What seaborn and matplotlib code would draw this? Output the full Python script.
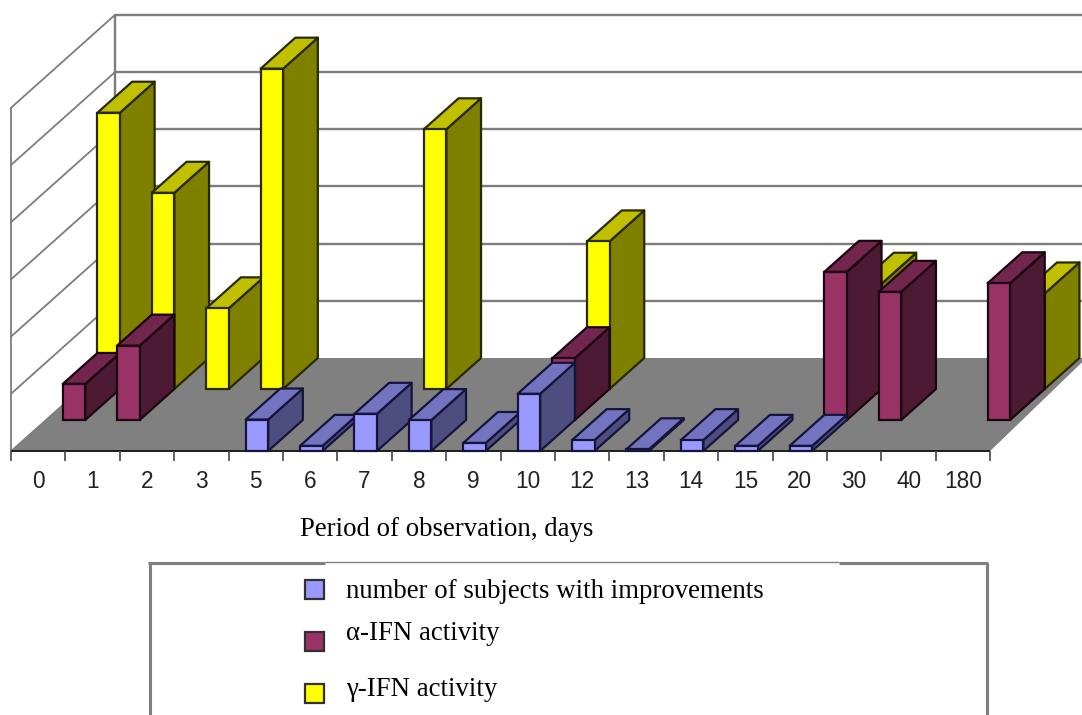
import numpy as np
import pandas as pd
import matplotlib
matplotlib.use("Agg")
import matplotlib.pyplot as plt
from matplotlib.patches import Polygon
import seaborn as sns

# Observation periods and measured activity, in gridline units
days = ["0", "1", "2", "3", "5", "6", "7", "8", "9", "10", "12", "13", "14", "15", "20", "30", "40", "180"]
nan = float("nan")
improved = [nan, nan, nan, nan, 0.55, 0.09, 0.65, 0.54, 0.14, 1.00, 0.19, 0.03, 0.19, 0.09, 0.09, nan, nan, nan]
alpha_ifn = [0.63, 1.30, nan, nan, nan, nan, nan, nan, nan, 1.08, nan, nan, nan, nan, 2.59, 2.24, nan, 2.39]
gamma_ifn = [4.83, 3.43, 1.41, 5.60, nan, nan, 4.54, nan, nan, 2.58, nan, nan, nan, nan, 1.84, nan, nan, 1.67]
grid_levels = [0, 1, 2, 3, 4, 5, 6]

legend_labels = ["number of subjects with improvements", "α-IFN activity", "γ-IFN activity"]

# Pixel geometry of the oblique projection
W, H = 1082, 715
X0, Y0 = 11.0, 451.0
STEP_X, STEP_Y = 54.4, 57.2
DEPTH_X, DEPTH_Y = 34.7 / STEP_X, 31.0 / STEP_Y  # one series row, in data units
BAR_WIDTH = 22.5 / STEP_X
N_ROWS = 3
N_DAYS = len(days)

sns.set_theme(style="white")
fig = plt.figure(figsize=(W / 100, H / 100), dpi=100, facecolor="white")
ax = fig.add_axes([0, 0, 1, 1])

# Series listed front to back: values, depth row, front / side / top colours, outline
series = [
    (improved, 0, "#9999FF", "#4D4D80", "#7373BF", "#14143C"),
    (alpha_ifn, 1, "#993366", "#4D1A33", "#73264D", "#1A0510"),
    (gamma_ifn, 2, "#FFFF00", "#808000", "#C0C000", "#2A2A00"),
]

GRID = "#7d7d7d"
EDGE_W = 1.6

# Floor and walls
dx_back, dy_back = N_ROWS * DEPTH_X, N_ROWS * DEPTH_Y
right = float(N_DAYS)
ax.add_patch(Polygon([(0, 0), (right, 0), (right + 1.77, dy_back), (dx_back - 0.0, dy_back)],
                     closed=True, facecolor="#808080", edgecolor="none", zorder=1))
for level in grid_levels:
    if level > 0:
        ax.plot([dx_back, right + 3], [level + dy_back] * 2, color=GRID, lw=1.7, zorder=1.5,
                solid_capstyle="butt")
        ax.plot([0, dx_back], [level, level + dy_back], color=GRID, lw=1.3, zorder=1.5)
ax.plot([dx_back, dx_back], [dy_back, grid_levels[-1] + dy_back], color=GRID, lw=1.7, zorder=1.5)
ax.plot([0, 0], [0, grid_levels[-1]], color=GRID, lw=1.3, zorder=1.5)
ax.plot([0, dx_back], [0, dy_back], color=GRID, lw=1.0, zorder=1.5)

# Category axis along the front edge of the floor
ax.plot([0, right], [0, 0], color="#1c1c1c", lw=1.4, zorder=2, solid_capstyle="butt")
for i in range(N_DAYS + 1):
    ax.plot([i, i], [0, -10 / STEP_Y], color="#444444", lw=1.2, zorder=2, solid_capstyle="butt")
for i, label in enumerate(days):
    ax.text(i + 0.5, -31 / STEP_Y, label, ha="center", va="center", color="#222222",
            fontsize=16.3, family="Liberation Sans")

# Bars: front faces through seaborn, side and top faces projected from the same values
for values, row, front, side, top, edge in series:
    z = 3 + (N_ROWS - 1 - row)
    ox, oy = row * DEPTH_X, row * DEPTH_Y
    frame = pd.DataFrame({"slot": np.arange(N_DAYS) + 0.52 + ox, "value": values}).dropna()
    sns.barplot(data=frame, x="slot", y="value", native_scale=True, ax=ax, width=BAR_WIDTH,
                bottom=oy, color=front, saturation=1, edgecolor=edge, linewidth=EDGE_W, zorder=z)
    half = BAR_WIDTH / 2
    for _, rec in frame.iterrows():
        l, r = rec["slot"] - half, rec["slot"] + half
        b, t = oy, oy + rec["value"]
        ax.add_patch(Polygon([(r, b), (r + DEPTH_X, b + DEPTH_Y), (r + DEPTH_X, t + DEPTH_Y), (r, t)],
                             closed=True, facecolor=side, edgecolor=edge, lw=EDGE_W, zorder=z - 0.5,
                             joinstyle="round"))
        ax.add_patch(Polygon([(l, t), (r, t), (r + DEPTH_X, t + DEPTH_Y), (l + DEPTH_X, t + DEPTH_Y)],
                             closed=True, facecolor=top, edgecolor=edge, lw=EDGE_W, zorder=z - 0.5,
                             joinstyle="round"))

ax.set_xlim(-X0 / STEP_X, (W - X0) / STEP_X)
ax.set_ylim(-(H - Y0) / STEP_Y, Y0 / STEP_Y)
ax.set_axis_off()

# Caption and key, laid out in pixels on an overlay
key = fig.add_axes([0, 0, 1, 1], facecolor="none")
key.set_xlim(0, W)
key.set_ylim(H, 0)
key.set_axis_off()
serif = "Liberation Serif"
key.text(447, 529, "Period of observation, days", ha="center", va="center",
         fontsize=19.3, family=serif, color="black")

BOX = "#7f7f7f"
key.plot([149.5, 149.5], [563, H], color=BOX, lw=2.2, solid_capstyle="butt")
key.plot([987, 987], [563, H], color=BOX, lw=2.2, solid_capstyle="butt")
key.plot([148, 325], [563, 563], color=BOX, lw=2.2, solid_capstyle="butt")
key.plot([325, 839], [561.5, 561.5], color=BOX, lw=1.0, solid_capstyle="butt")
key.plot([839, 988], [563, 563], color=BOX, lw=2.2, solid_capstyle="butt")

for label, (_, _, front, _, _, _), sy, ty in zip(legend_labels, series, [589, 641, 693], [591, 634, 690]):
    key.add_patch(plt.Rectangle((305, sy - 9.5), 19, 19, facecolor=front, edgecolor="#303030", lw=1.6))
    key.text(346, ty, label, ha="left", va="center", fontsize=19.3, family=serif, color="black")

fig.savefig("out.png", dpi=100, facecolor="white")
